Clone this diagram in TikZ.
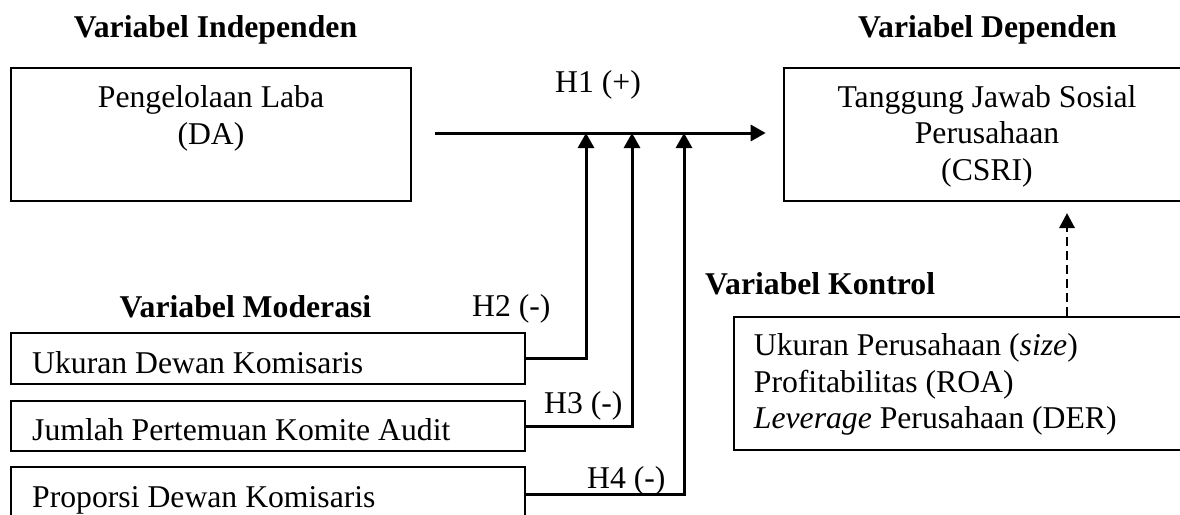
\documentclass[tikz,border=0pt]{standalone}
\usepackage{fontspec}
\setmainfont{Liberation Serif}
\usetikzlibrary{positioning,arrows.meta}

\begin{document}
\begin{tikzpicture}[x=1pt,y=-1pt,
  every node/.style={inner sep=0pt, font=\fontsize{31.7}{36.5}\selectfont},
  box/.style={draw, line width=2.6pt},
  head/.style={font=\fontsize{31.7}{36.5}\selectfont\bfseries},
  arr/.style={draw, line width=3pt, -{Triangle[length=15pt,width=16pt]}},
  dasharr/.style={draw, line width=2.8pt, dash pattern=on 9pt off 5pt, -{Triangle[length=15pt,width=15pt]}}]
\useasboundingbox (0,0) rectangle (1180,514);

% judul
\node[head, anchor=base] (indep) at (215.5,37) {Variabel Independen};
\node[head, anchor=base] (dep) at (987.5,37) {Variabel Dependen};
\node[head, anchor=base] (mod) at (245.5,317) {Variabel Moderasi};
\node[head, anchor=base west] (kontrol) at (705,294) {Variabel Kontrol};

% kotak
\node[box, minimum width=400pt, minimum height=133pt] (da) at (211,134.5) {};
\node[align=center, below=19pt of da.north] (daT) {Pengelolaan Laba\\(DA)};
\node[box, minimum width=406pt, minimum height=133pt] (csri) at (987,134.5) {};
\node[align=center, below=18.5pt of csri.north] (csriT) {Tanggung Jawab Sosial\\Perusahaan\\(CSRI)};
\node[box, minimum width=456pt, minimum height=133pt] (ctrl) at (962,383.5) {};
\node[align=left, below right=18pt and 21pt of ctrl.north west] (ctrlT) {Ukuran Perusahaan (\textit{size})\\Profitabilitas (ROA)\\\textit{Leverage} Perusahaan (DER)};

\node[box, minimum width=514pt, minimum height=51pt] (ukuran) at (268,358.5) {};
\node[anchor=base west] (ukuranT) at (32,373) {Ukuran Dewan Komisaris};
\node[box, minimum width=514pt, minimum height=50pt] (jumlah) at (268,426) {};
\node[anchor=base west] (jumlahT) at (32,440) {Jumlah Pertemuan Komite Audit};
\node[box, minimum width=514pt, minimum height=54pt] (proporsi) at (268,494) {};
\node[anchor=base west] (proporsiT) at (32,507) {Proporsi Dewan Komisaris};

% hipotesis
\node[anchor=base west] (h1) at (555,92) {H1 (+)};
\node[anchor=base west] (h2) at (472,316) {H2 (-)};
\node[anchor=base west] (h3) at (544,413) {H3 (-)};
\node[anchor=base west] (h4) at (587,488) {H4 (-)};

\coordinate (m1) at (586,133);
\coordinate (m2) at (632,133);
\coordinate (m3) at (684,133);
\coordinate (k) at (1067,213);

\path[arr, shorten <=23pt, shorten >=17pt] ([yshift=1.5pt]da.east) -- ([yshift=1.5pt]csri.west);
\path[arr] (ukuran.east) -| (m1);
\path[arr] (jumlah.east) -| (m2);
\path[arr] (proporsi.east) -| (m3);
\path[dasharr] (ctrl.north -| k) -- (k);
\end{tikzpicture}
\end{document}
